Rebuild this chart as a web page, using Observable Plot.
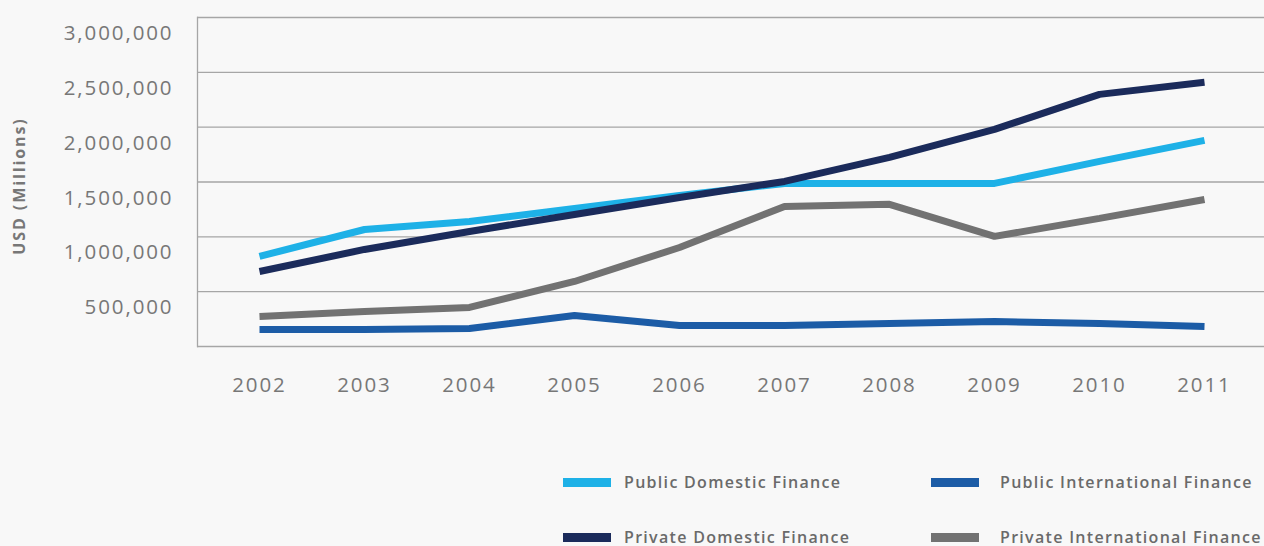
<!DOCTYPE html>
<html>
<head>
<meta charset="utf-8">
<script src="https://cdn.jsdelivr.net/npm/d3@7"></script>
<script src="https://cdn.jsdelivr.net/npm/@observablehq/plot@0.6"></script>
<style>
  html, body { margin: 0; padding: 0; background: #f8f8f8; }
  body { width: 1264px; height: 546px; overflow: hidden; font-family: "Open Sans", sans-serif; }
  #legend { position: relative; height: 136px; }
  .item { position: absolute; display: flex; align-items: center; font-size: 16px; font-weight: 600; color: #6a6a6a; letter-spacing: 1.3px; white-space: nowrap; }
  .sw { width: 48px; height: 9px; }
  g[aria-label="y-axis tick label"] text, g[aria-label="x-axis tick label"] text { letter-spacing: 1.9px; }
  g.ytitle text { letter-spacing: 1.9px; }
</style>
</head>
<body>
<div id="chart"></div>
<div id="legend"></div>
<script>
const years = ["2002","2003","2004","2005","2006","2007","2008","2009","2010","2011"];
const seriesNames = ["Public Domestic Finance","Public International Finance","Private Domestic Finance","Private International Finance"];
const colors = ["#1eb1e7","#1c5ca6","#1b2b5b","#727272"];
const publicDomestic = [821000,1067000,1140000,1259000,1378000,1487000,1487000,1487000,1688000,1880000];
const publicInternational = [155000,155000,164000,283000,192000,192000,210000,228000,210000,182000];
const privateDomestic = [684000,885000,1049000,1204000,1359000,1505000,1724000,1980000,2299000,2409000];
const privateInternational = [274000,319000,356000,593000,903000,1277000,1296000,1004000,1168000,1341000];
const yTicks = [500000,1000000,1500000,2000000,2500000,3000000];
const gridTicks = [0,500000,1000000,1500000,2000000,2500000,3000000];

const valuesBySeries = [publicDomestic, publicInternational, privateDomestic, privateInternational];
const data = [];
seriesNames.forEach((s, i) => years.forEach((y, j) => data.push({series: s, year: y, value: valuesBySeries[i][j]})));

const fmt = d3.format(",");
const chart = Plot.plot({
  width: 1264,
  height: 410,
  marginLeft: 197,
  marginRight: 0,
  marginTop: 17,
  marginBottom: 64,
  style: {background: "#f8f8f8", fontFamily: "'Open Sans', sans-serif"},
  x: {type: "point", domain: years, range: [255, 1207], padding: 0},
  y: {domain: [0, 3000000]},
  color: {domain: seriesNames, range: colors},
  marks: [
    Plot.gridY(gridTicks, {stroke: "#a6a6a6", strokeOpacity: 1, strokeWidth: 1.3}),
    Plot.frame({anchor: "left", stroke: "#a6a6a6", strokeWidth: 1.3}),
    Plot.axisY(yTicks, {tickSize: 0, tickPadding: 24, tickFormat: fmt, fontSize: 20.5, fill: "#777", dy: 16, label: null}),
    Plot.axisX(years, {tickSize: 0, tickPadding: 31, fontSize: 20.5, fill: "#777", label: null}),
    Plot.text(["USD (Millions)"], {frameAnchor: "left", textAnchor: "middle", rotate: -90, dx: -178, dy: 4, fontSize: 16, fontWeight: 700, fill: "#777", className: "ytitle"}),
    Plot.line(data, {x: "year", y: "value", z: "series", stroke: "series", strokeWidth: 7, strokeLinecap: "butt", strokeLinejoin: "miter"})
  ]
});
document.getElementById("chart").appendChild(chart);

const legend = document.getElementById("legend");
const pos = [[563, 72, 13], [931, 72, 21], [563, 127, 13], [931, 127, 21]];
seriesNames.forEach((s, i) => {
  const d = document.createElement("div");
  d.className = "item";
  d.style.left = pos[i][0] + "px";
  d.style.top = (pos[i][1] - 11) + "px";
  d.innerHTML = `<span class="sw" style="background:${colors[i]};margin-right:${pos[i][2]}px"></span><span>${s}</span>`;
  legend.appendChild(d);
});
</script>
</body>
</html>
